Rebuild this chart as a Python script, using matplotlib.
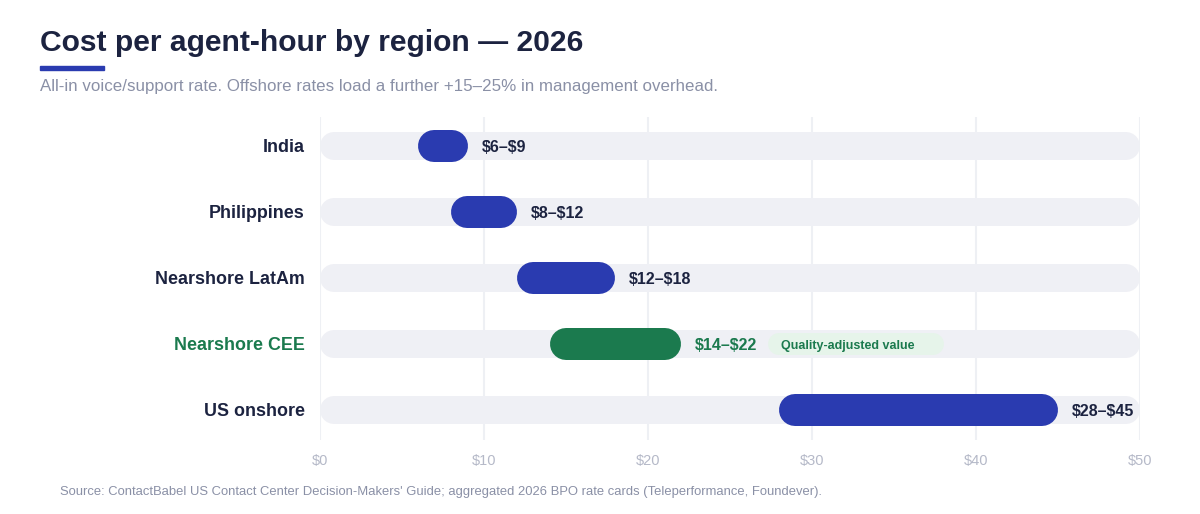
import matplotlib.pyplot as plt

plt.rcParams["font.family"] = ["Liberation Sans", "DejaVu Sans"]
plt.rcParams["text.parse_math"] = False

regions = ["India", "Philippines", "Nearshore LatAm", "Nearshore CEE", "US onshore"]
low = [6, 8, 12, 14, 28]
high = [9, 12, 18, 22, 45]
labels = ["$6–$9", "$8–$12", "$12–$18", "$14–$22", "$28–$45"]
highlight = "Nearshore CEE"
ticks = [0, 10, 20, 30, 40, 50]
tick_labels = ["$0", "$10", "$20", "$30", "$40", "$50"]

NAVY = "#1c2340"
BLUE = "#2a3bb0"
GREEN = "#1b7a4e"
TRACK = "#eff0f5"
GRID = "#eef0f4"
MUTED = "#8a90a6"

W, H, DPI = 12, 5.14, 100
fig = plt.figure(figsize=(W, H), dpi=DPI)
left, right = 320 / 1200, 1140 / 1200
top, bottom = 1 - 117 / 514, 1 - 440 / 514
ax = fig.add_axes([left, bottom, right - left, top - bottom])
ax.set_xlim(0, 50)
ax.set_ylim(4.45, -0.44)

px_per_unit = (right - left) * W * DPI / 50
pt = 72 / DPI


def pill(y, x0, x1, height_px, color, z):
    r = height_px / 2 / px_per_unit
    ax.plot([x0 + r, x1 - r], [y, y], color=color, lw=height_px * pt,
            solid_capstyle="round", zorder=z)


for t in ticks:
    ax.axvline(t, color=GRID, lw=1.5, zorder=0)

for i, name in enumerate(regions):
    c = GREEN if name == highlight else BLUE
    pill(i, 0, 50, 28, TRACK, 1)
    pill(i, low[i], high[i], 32, c, 3)
    lx = high[i] + 14 / px_per_unit
    ax.text(lx, i, labels[i], va="center_baseline", ha="left", fontsize=11.5,
            fontweight="bold", color=GREEN if name == highlight else NAVY, zorder=4)
    if name == highlight:
        pill(i, 27.3, 38.05, 22, "#e6f4ea", 2)
        ax.text(28.1, i, "Quality-adjusted value", va="center_baseline", ha="left",
                fontsize=9.0, fontweight="bold", color=GREEN, zorder=4)

ax.set_yticks([y - 0.015 for y in range(len(regions))])
ax.set_yticklabels(regions, fontsize=12.9, fontweight="bold", color=NAVY)
for lab in ax.get_yticklabels():
    if lab.get_text() == highlight:
        lab.set_color(GREEN)
ax.set_xticks(ticks)
ax.set_xticklabels(tick_labels, fontsize=10.5, color="#b5b9c8")
ax.tick_params(length=0)
ax.tick_params(axis="y", pad=11)
ax.tick_params(axis="x", pad=10)
for s in ax.spines.values():
    s.set_visible(False)

fig.text(40 / 1200, 1 - 43 / 514, "Cost per agent-hour by region — 2026", fontsize=21.6,
         fontweight="bold", color=NAVY, va="center", ha="left")
fig.patches.append(plt.Rectangle((40 / 1200, 1 - 69.5 / 514), 64 / 1200, 3.5 / 514,
                                 transform=fig.transFigure, color=BLUE, figure=fig))
fig.text(40 / 1200, 1 - 86 / 514,
         "All-in voice/support rate. Offshore rates load a further +15–25% in management overhead.",
         fontsize=12.2, color=MUTED, va="center", ha="left")
fig.text(60 / 1200, 1 - 492 / 514,
         "Source: ContactBabel US Contact Center Decision-Makers' Guide; aggregated 2026 BPO rate cards (Teleperformance, Foundever).",
         fontsize=9.35, color=MUTED, va="center", ha="left")

fig.savefig("out.png", dpi=DPI)
